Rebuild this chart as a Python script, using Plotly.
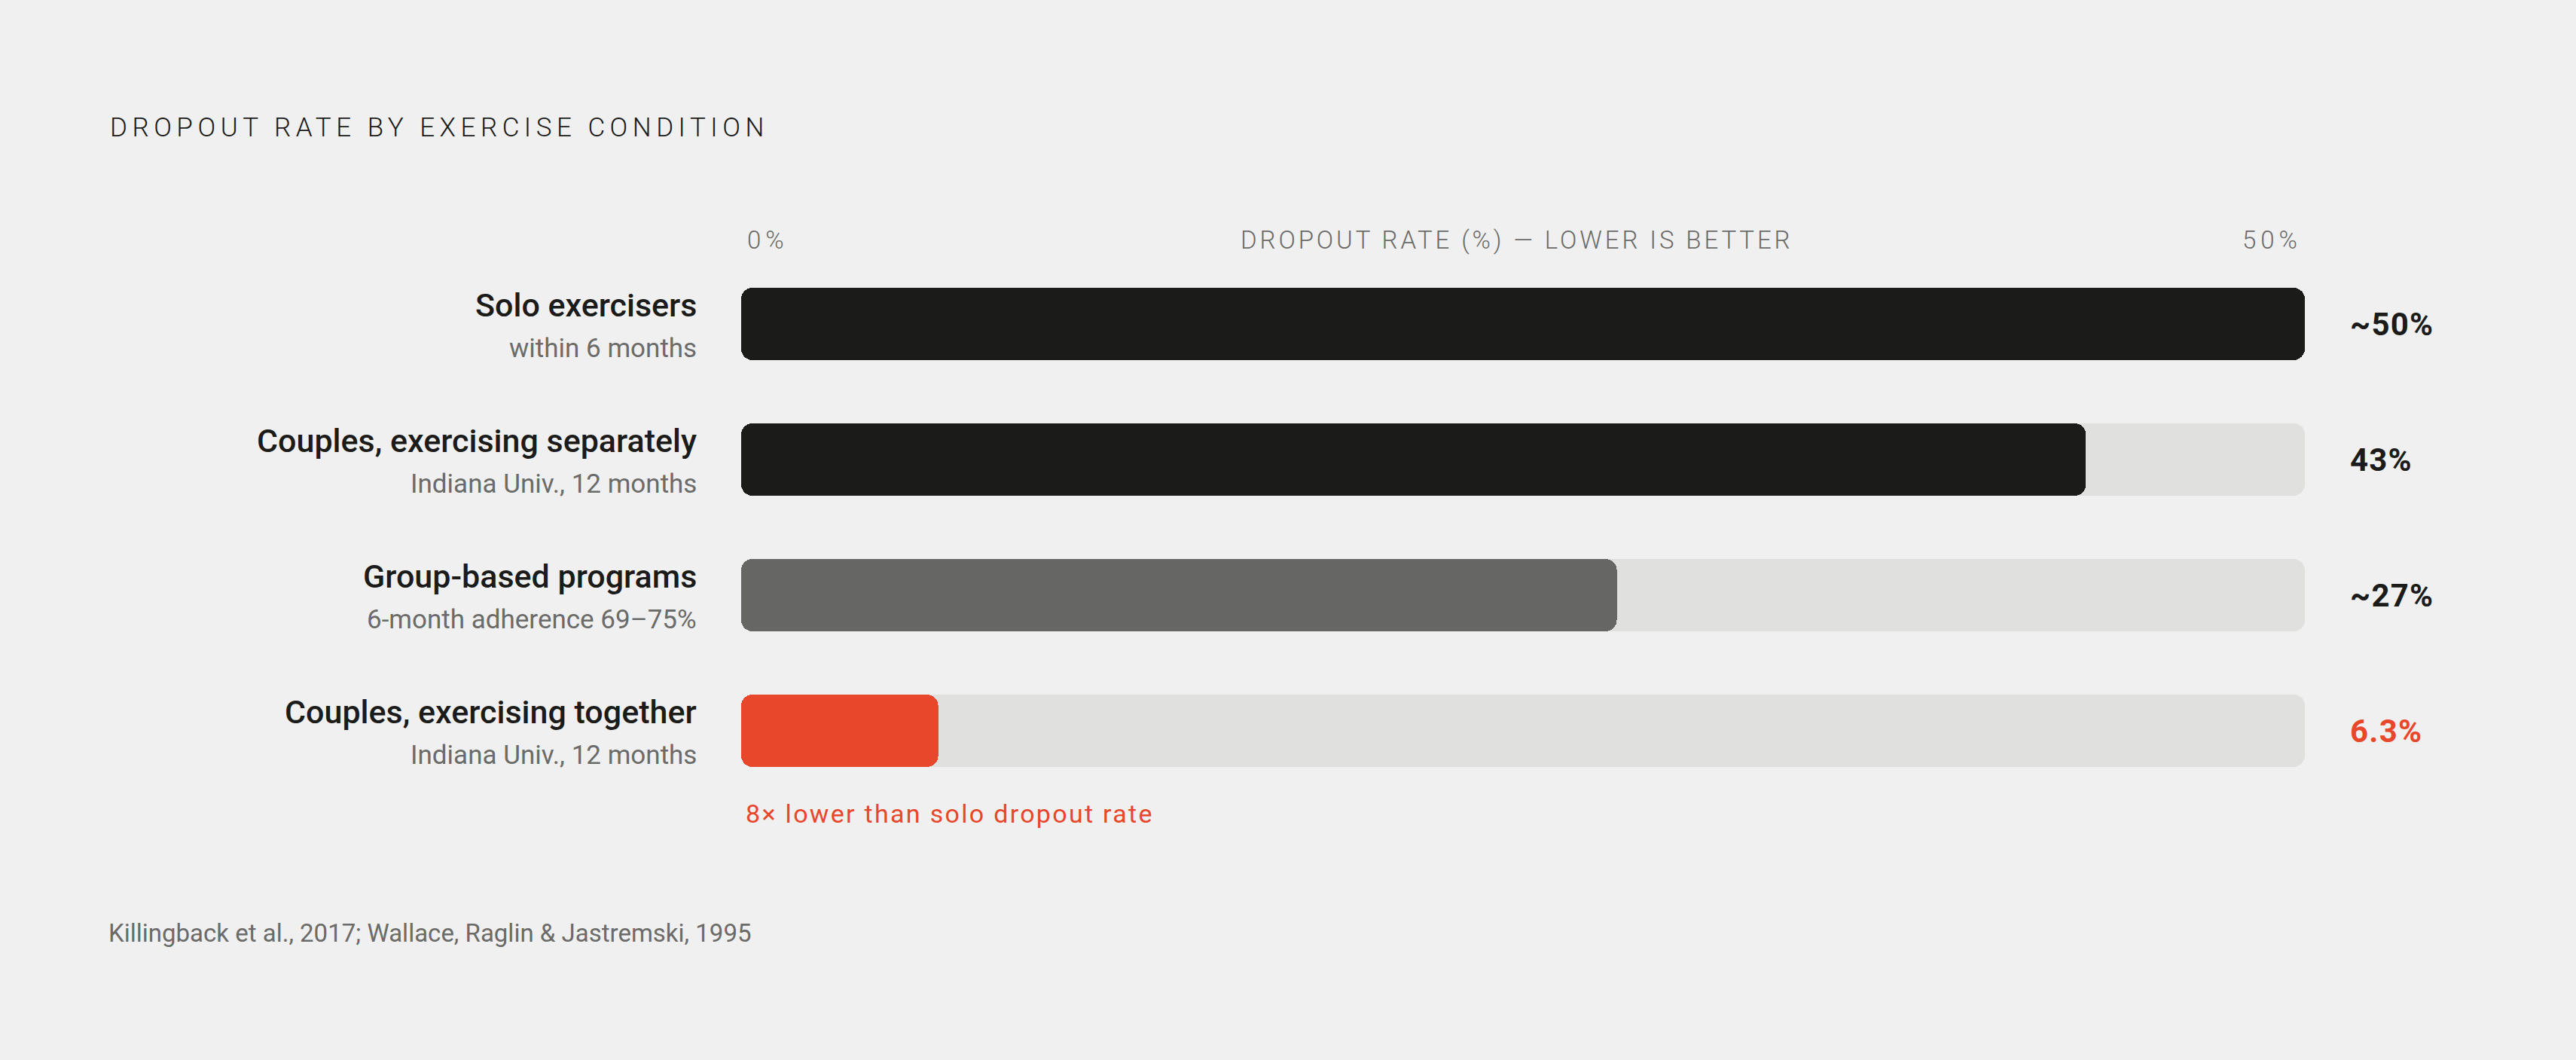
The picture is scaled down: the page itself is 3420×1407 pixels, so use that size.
import plotly.graph_objects as go

# ---- data ----
categories = ["Solo exercisers", "Couples, exercising separately",
              "Group-based programs", "Couples, exercising together"]
subtitles = ["within 6 months", "Indiana Univ., 12 months",
             "6-month adherence 69–75%", "Indiana Univ., 12 months"]
dropout = [50, 43, 28, 6.3]
value_labels = ["~50%", "43%", "~27%", "6.3%"]
axis_max = 50
tick_labels = ["0%", "50%"]
title_text = "DROPOUT RATE BY EXERCISE CONDITION"
axis_title = "DROPOUT RATE (%) — LOWER IS BETTER"
note_text = "8× lower than solo dropout rate"
source_text = "Killingback et al., 2017; Wallace, Raglin & Jastremski, 1995"

# ---- style ----
W, H = 3420, 1407
L, R, T, B = 984, 360, 340, 347
PW, PH = W - L - R, H - T - B
BG = "#f0f0f0"
DARK = "#1b1b19"
MID = "#666664"
TRACK = "#e0e0de"
RED = "#e8472b"
GREY_TXT = "#6b6b69"
bar_colors = [DARK, DARK, MID, RED]
value_colors = [DARK, DARK, DARK, RED]
FONT = "Roboto, 'Noto Sans', sans-serif"

def px_x(px):
    return (px - L) / PW

def px_y(py):
    return (H - B - py) / PH

ypos = list(range(len(categories)))
bar_w = 96 / (PH / len(categories))
zero_base = [0] * len(ypos)  # explicit base -> plotly rounds both ends of the bar

fig = go.Figure()
fig.add_trace(go.Bar(orientation="h", y=ypos, x=[axis_max] * len(ypos), base=zero_base,
                     width=bar_w, marker=dict(color=TRACK, line=dict(width=0)),
                     hoverinfo="skip", showlegend=False))
fig.add_trace(go.Bar(orientation="h", y=ypos, x=dropout, base=zero_base,
                     width=bar_w, marker=dict(color=bar_colors, line=dict(width=0)),
                     hoverinfo="skip", showlegend=False))

ann = []
ann.append(dict(text=title_text, xref="paper", yref="paper", x=px_x(144), y=px_y(170),
                xanchor="left", yanchor="middle", align="left", showarrow=False,
                font=dict(family=FONT, size=35, color=DARK, weight=300)))
ann.append(dict(text=tick_labels[0], xref="x", yref="paper", x=0, xshift=6, y=px_y(318),
                xanchor="left", yanchor="middle", align="left", showarrow=False,
                font=dict(family=FONT, size=33, color=GREY_TXT, weight=300)))
ann.append(dict(text=axis_title, xref="paper", yref="paper", x=px_x(1645), y=px_y(318),
                xanchor="left", yanchor="middle", align="left", showarrow=False,
                font=dict(family=FONT, size=33, color=GREY_TXT, weight=300)))
ann.append(dict(text=tick_labels[1], xref="paper", yref="paper", x=px_x(2975), y=px_y(318),
                xanchor="left", yanchor="middle", align="left", showarrow=False,
                font=dict(family=FONT, size=33, color=GREY_TXT, weight=300)))
for i in ypos:
    ann.append(dict(text=categories[i], xref="paper", yref="y", x=px_x(927), y=i, yshift=25,
                    xanchor="right", yanchor="middle", align="right", showarrow=False,
                    font=dict(family=FONT, size=43, color=DARK, weight=500)))
    ann.append(dict(text=subtitles[i], xref="paper", yref="y", x=px_x(927), y=i, yshift=-32,
                    xanchor="right", yanchor="middle", align="right", showarrow=False,
                    font=dict(family=FONT, size=35, color=GREY_TXT, weight=400)))
    ann.append(dict(text=value_labels[i], xref="x", yref="y", x=axis_max, xshift=58, y=i,
                    xanchor="left", yanchor="middle", align="left", showarrow=False,
                    font=dict(family=FONT, size=42, color=value_colors[i], weight=700)))
ann.append(dict(text=note_text, xref="x", yref="y", x=0, xshift=4, y=3, yshift=-110,
                xanchor="left", yanchor="middle", align="left", showarrow=False,
                font=dict(family=FONT, size=34, color=RED, weight=400)))
ann.append(dict(text=source_text, xref="paper", yref="paper", x=px_x(142), y=px_y(1238),
                xanchor="left", yanchor="middle", align="left", showarrow=False,
                font=dict(family=FONT, size=33, color=GREY_TXT, weight=400)))

fig.update_layout(
    width=W, height=H, margin=dict(l=L, r=R, t=T, b=B, pad=0),
    paper_bgcolor=BG, plot_bgcolor=BG,
    barmode="overlay", barcornerradius=15, bargap=0,
    annotations=ann, showlegend=False,
    xaxis=dict(range=[0, axis_max], showgrid=False, zeroline=False, showticklabels=False,
               showline=False, fixedrange=True),
    yaxis=dict(range=[len(ypos) - 0.5, -0.5], showgrid=False, zeroline=False,
               showticklabels=False, showline=False, fixedrange=True),
)

post = """
document.body.style.margin='0';
document.body.style.overflow='hidden';
var texts = document.querySelectorAll('.annotation-text');
texts.forEach(function(t){
  var s = t.textContent;
  if (s.indexOf('DROPOUT RATE BY') === 0) t.style.letterSpacing = '6.5px';
  else if (s.indexOf('DROPOUT RATE (') === 0) t.style.letterSpacing = '3.9px';
  else if (s === '0%' || s === '50%') t.style.letterSpacing = '6px';
  else if (s.indexOf('8×') === 0) t.style.letterSpacing = '2.3px';
  else if (s.indexOf('%') === s.length - 1 && s.length <= 4) t.style.letterSpacing = '1.2px';
});
"""
fig.write_html("out.html", config={"displayModeBar": False, "staticPlot": True}, post_script=post)
